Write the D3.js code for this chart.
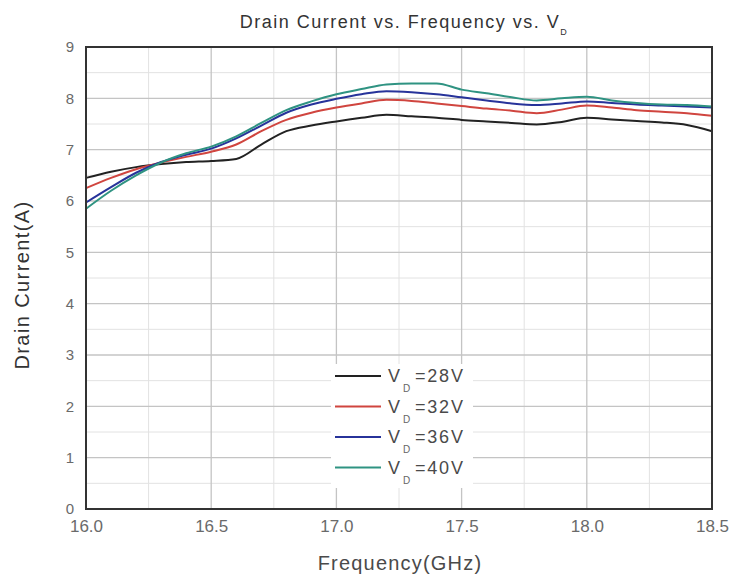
<!DOCTYPE html>
<html>
<head>
<meta charset="utf-8">
<script src="https://cdn.jsdelivr.net/npm/d3@7"></script>
<style>
  body { margin: 0; background: #fff; }
  text { font-family: "Liberation Sans", Arial, sans-serif; }
</style>
</head>
<body>
<div id="container"></div>
<script>
const width = 731,
  height = 579,
  margin = { top: 47, bottom: 70, left: 86, right: 19 };

// frequency points (GHz)
const freq = [16.0, 16.1, 16.2, 16.3, 16.4, 16.5, 16.6, 16.7, 16.8, 16.9, 17.0, 17.1, 17.2,
  17.3, 17.4, 17.5, 17.6, 17.7, 17.8, 17.9, 18.0, 18.1, 18.2, 18.3, 18.4, 18.5];

// drain current (A) per VD
const vd28 = [6.45, 6.57, 6.66, 6.72, 6.76, 6.78, 6.82, 7.1, 7.36, 7.47, 7.55, 7.62, 7.68,
  7.65, 7.62, 7.58, 7.55, 7.52, 7.49, 7.54, 7.62, 7.59, 7.56, 7.53, 7.48, 7.36];
const vd32 = [6.25, 6.45, 6.62, 6.75, 6.86, 6.96, 7.1, 7.36, 7.58, 7.72, 7.82, 7.9, 7.97,
  7.95, 7.9, 7.85, 7.8, 7.76, 7.71, 7.78, 7.86, 7.82, 7.77, 7.74, 7.71, 7.66];
const vd36 = [5.97, 6.27, 6.55, 6.76, 6.9, 7.02, 7.22, 7.47, 7.72, 7.88, 7.99, 8.08, 8.14,
  8.12, 8.08, 8.02, 7.96, 7.9, 7.87, 7.9, 7.94, 7.91, 7.88, 7.86, 7.84, 7.82];
const vd40 = [5.85, 6.2, 6.5, 6.75, 6.93, 7.06, 7.26, 7.52, 7.77, 7.94, 8.08, 8.18, 8.27,
  8.29, 8.29, 8.17, 8.1, 8.02, 7.96, 8.0, 8.03, 7.96, 7.91, 7.88, 7.87, 7.84];

const seriesNames = ["28V", "32V", "36V", "40V"];
const seriesColors = ["#222222", "#d0453f", "#27339a", "#2f9382"];
const seriesData = [vd28, vd32, vd36, vd40];

const xTicks = [16.0, 16.5, 17.0, 17.5, 18.0, 18.5];
const yTicks = [0, 1, 2, 3, 4, 5, 6, 7, 8, 9];

const xScale = d3.scaleLinear()
  .domain([16.0, 18.5])
  .range([margin.left, width - margin.right]);

const yScale = d3.scaleLinear()
  .domain([0, 9])
  .range([height - margin.bottom, margin.top]);

const svg = d3.select("#container")
  .append("svg")
  .attr("width", width)
  .attr("height", height);

// minor grid
svg.append("g")
  .selectAll("line")
  .data(d3.range(16.25, 18.5, 0.5))
  .join("line")
  .attr("x1", d => xScale(d)).attr("x2", d => xScale(d))
  .attr("y1", yScale(0)).attr("y2", yScale(9))
  .attr("stroke", "#e2e2e2");

svg.append("g")
  .selectAll("line")
  .data(d3.range(0.5, 9, 1))
  .join("line")
  .attr("y1", d => yScale(d)).attr("y2", d => yScale(d))
  .attr("x1", xScale(16)).attr("x2", xScale(18.5))
  .attr("stroke", "#e2e2e2");

// major grid
svg.append("g")
  .selectAll("line")
  .data(xTicks)
  .join("line")
  .attr("x1", d => xScale(d)).attr("x2", d => xScale(d))
  .attr("y1", yScale(0)).attr("y2", yScale(9))
  .attr("stroke", "#c4c4c4")
  .attr("stroke-width", 1.3);

svg.append("g")
  .selectAll("line")
  .data(yTicks)
  .join("line")
  .attr("y1", d => yScale(d)).attr("y2", d => yScale(d))
  .attr("x1", xScale(16)).attr("x2", xScale(18.5))
  .attr("stroke", "#c4c4c4")
  .attr("stroke-width", 1.3);

// curves
const line = d3.line()
  .x((d, i) => xScale(freq[i]))
  .y(d => yScale(d))
  .curve(d3.curveMonotoneX);

svg.append("g")
  .selectAll("path")
  .data(seriesData)
  .join("path")
  .attr("d", d => line(d))
  .attr("fill", "none")
  .attr("stroke", (d, i) => seriesColors[i])
  .attr("stroke-width", 2);

// plot border
svg.append("rect")
  .attr("x", xScale(16)).attr("y", yScale(9))
  .attr("width", xScale(18.5) - xScale(16))
  .attr("height", yScale(0) - yScale(9))
  .attr("fill", "none")
  .attr("stroke", "#333")
  .attr("stroke-width", 2);

// axes (labels only)
const xAxisGroup = svg.append("g")
  .attr("transform", `translate(0,${height - margin.bottom})`)
  .call(d3.axisBottom(xScale).tickValues(xTicks).tickFormat(d3.format(".1f")).tickSize(0).tickPadding(11));

const yAxisGroup = svg.append("g")
  .attr("transform", `translate(${margin.left},0)`)
  .call(d3.axisLeft(yScale).tickValues(yTicks).tickSize(0).tickPadding(12));

xAxisGroup.selectAll("text").style("font-size", "17px");
yAxisGroup.selectAll("text").style("font-size", "15px");

[xAxisGroup, yAxisGroup].forEach(g => {
  g.select(".domain").remove();
  g.selectAll("text")
    .style("fill", "#6a6a6a")
    .style("font-family", "\"Liberation Sans\", Arial, sans-serif");
});

// legend
const legend = svg.append("g");
legend.append("rect")
  .attr("x", 331).attr("y", 364)
  .attr("width", 142).attr("height", 124)
  .attr("fill", "#fff");

const legendRows = legend.selectAll("g")
  .data(seriesNames)
  .join("g")
  .attr("transform", (d, i) => `translate(0,${376 + i * 30.5})`);

legendRows.append("line")
  .attr("x1", 335).attr("x2", 381)
  .attr("stroke", (d, i) => seriesColors[i])
  .attr("stroke-width", 2);

legendRows.append("text")
  .attr("x", 388).attr("y", 6)
  .style("font-size", "18px")
  .style("fill", "#4a4a4a")
  .text("V");
legendRows.append("text")
  .attr("x", 403).attr("y", 16)
  .style("font-size", "10px")
  .style("fill", "#666")
  .text("D");
legendRows.append("text")
  .attr("x", 415).attr("y", 6)
  .style("font-size", "18px")
  .style("letter-spacing", "1.8px")
  .style("fill", "#4a4a4a")
  .text(d => "=" + d);

// title
const title = svg.append("text")
  .attr("x", 404).attr("y", 28)
  .attr("text-anchor", "middle")
  .style("font-size", "18px")
  .style("letter-spacing", "1.5px")
  .style("fill", "#333");
title.append("tspan").text("Drain Current vs. Frequency vs. V");
title.append("tspan").attr("dy", 7).style("font-size", "9px").text("D");

svg.append("text")
  .attr("x", 400).attr("y", 570)
  .attr("text-anchor", "middle")
  .style("font-size", "20px")
  .style("letter-spacing", "1.2px")
  .style("fill", "#4a4a4a")
  .text("Frequency(GHz)");

svg.append("text")
  .attr("transform", "rotate(-90)")
  .attr("x", -285).attr("y", 29)
  .attr("text-anchor", "middle")
  .style("font-size", "20px")
  .style("letter-spacing", "1.4px")
  .style("fill", "#333")
  .text("Drain Current(A)");
</script>
</body>
</html>
